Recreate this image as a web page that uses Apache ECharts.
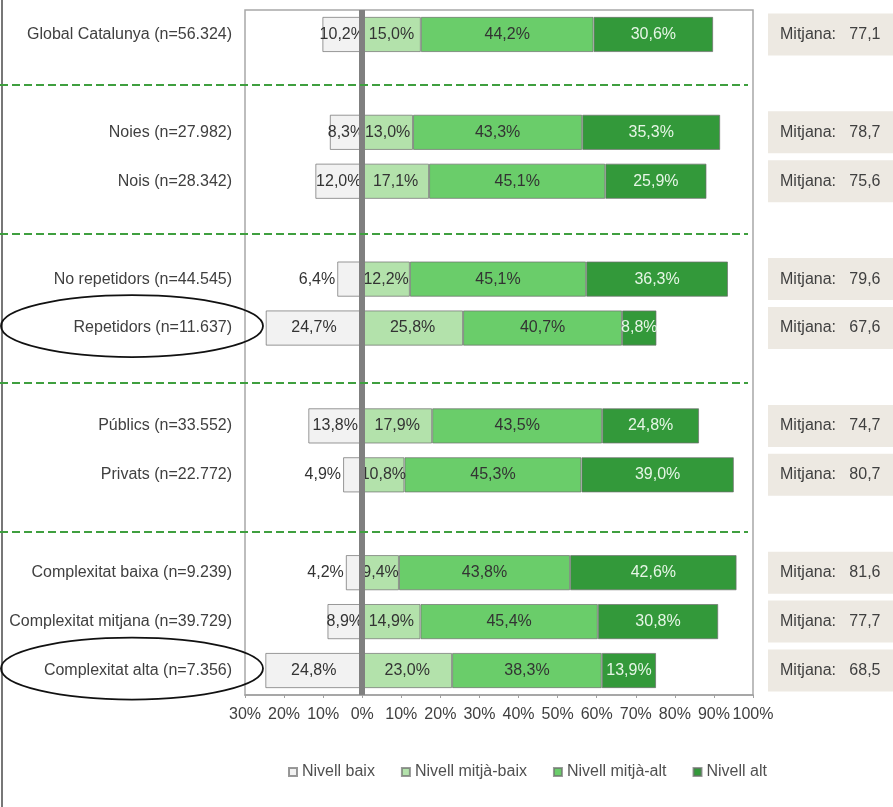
<!DOCTYPE html>
<html><head><meta charset="utf-8">
<script src="https://cdn.jsdelivr.net/npm/echarts@6/dist/echarts.min.js"></script>
<style>html,body{margin:0;padding:0;background:#fff}#c{width:893px;height:807px}</style>
</head><body><div id="c"></div>
<script>
const categories = ['Global Catalunya (n=56.324)', 'sep1', 'Noies (n=27.982)', 'Nois (n=28.342)', 'sep2', 'No repetidors (n=44.545)', 'Repetidors (n=11.637)', 'sep3', 'Públics (n=33.552)', 'Privats (n=22.772)', 'sep4', 'Complexitat baixa (n=9.239)', 'Complexitat mitjana (n=39.729)', 'Complexitat alta (n=7.356)'];
const separators = ['sep1', 'sep2', 'sep3', 'sep4'];
const highlighted = ['Repetidors (n=11.637)', 'Complexitat alta (n=7.356)'];
const seriesNames = ['Nivell baix', 'Nivell mitjà-baix', 'Nivell mitjà-alt', 'Nivell alt'];
const nivellBaix = [10.2, null, 8.3, 12.0, null, 6.4, 24.7, null, 13.8, 4.9, null, 4.2, 8.9, 24.8];
const nivellMitjaBaix = [15.0, null, 13.0, 17.1, null, 12.2, 25.8, null, 17.9, 10.8, null, 9.4, 14.9, 23.0];
const nivellMitjaAlt = [44.2, null, 43.3, 45.1, null, 45.1, 40.7, null, 43.5, 45.3, null, 43.8, 45.4, 38.3];
const nivellAlt = [30.6, null, 35.3, 25.9, null, 36.3, 8.8, null, 24.8, 39.0, null, 42.6, 30.8, 13.9];
const mitjana = [77.1, null, 78.7, 75.6, null, 79.6, 67.6, null, 74.7, 80.7, null, 81.6, 77.7, 68.5];
const xMin = -30, xMax = 100, xInterval = 10;

const FONT = "'Liberation Sans', Arial, sans-serif";
const fmt = v => Math.abs(v).toFixed(1).replace('.', ',') + '%';
const colors = ['#f2f2f2', '#b3e2ab', '#6acd6a', '#33993a'];
const border = 'rgba(110,110,110,0.7)';

const chart = echarts.init(document.getElementById('c'), null, {renderer: 'canvas'});

function mkSeries(idx, values, sign) {
  return {
    name: seriesNames[idx],
    type: 'bar',
    stack: 'total',
    barWidth: '72%',
    itemStyle: {color: colors[idx], borderColor: border, borderWidth: 1},
    label: {
      show: true,
      position: 'inside',
      fontFamily: FONT,
      fontSize: 16,
      color: idx === 3 ? '#e6f6e6' : '#333',
      formatter: p => p.value == null || p.value === '-' ? '' : fmt(p.value)
    },
    data: values.map(v => {
      if (v == null) return '-';
      const item = {value: sign * v};
      if (idx === 0 && v < 7) item.label = {position: 'left', distance: 2};
      return item;
    })
  };
}

const series = [
  mkSeries(0, nivellBaix, -1),
  mkSeries(1, nivellMitjaBaix, 1),
  mkSeries(2, nivellMitjaAlt, 1),
  mkSeries(3, nivellAlt, 1)
];
series[3].markLine = {
  silent: true, symbol: 'none', animation: false,
  label: {show: false},
  lineStyle: {color: '#808080', width: 6, type: 'solid'},
  data: [{xAxis: 0}]
};

const option = {
  animation: false,
  backgroundColor: '#fff',
  textStyle: {fontFamily: FONT},
  grid: {left: 245, right: 140, top: 10, bottom: 112, show: true, borderColor: '#a8a8a8', borderWidth: 1.5,
    containLabel: false, outerBoundsMode: 'none'},
  xAxis: {
    type: 'value', min: xMin, max: xMax, interval: xInterval,
    axisLine: {show: true, lineStyle: {color: '#a0a0a0', width: 1.5}},
    axisTick: {show: true, length: 3, lineStyle: {color: '#a0a0a0'}},
    splitLine: {show: false},
    axisLabel: {fontFamily: FONT, fontSize: 16, color: '#404040', margin: 12, formatter: v => Math.abs(v) + '%'}
  },
  yAxis: [{
    type: 'category', data: categories, inverse: true,
    axisLine: {show: false}, axisTick: {show: false},
    axisLabel: {fontFamily: FONT, fontSize: 16, color: '#404040', margin: 13,
      formatter: v => separators.includes(v) ? '' : v}
  }, {
    type: 'category', data: categories, inverse: true, position: 'right',
    axisLine: {show: false}, axisTick: {show: false},
    axisLabel: {
      margin: 15, align: 'left',
      formatter: (v, i) => mitjana[i] == null ? '' : '{b|Mitjana:   ' + mitjana[i].toFixed(1).replace('.', ',') + '}',
      rich: {b: {fontFamily: FONT, fontSize: 16, color: '#404040', backgroundColor: '#ede9e2',
        padding: [13, 20, 13, 12], width: 110, align: 'left'}}
    }
  }],
  legend: {
    data: seriesNames, left: 283, top: 759, icon: 'rect', itemWidth: 8, itemHeight: 8, itemGap: 26,
    textStyle: {fontFamily: FONT, fontSize: 16, color: '#505050'}
  },
  series: series
};
chart.setOption(option);

const graphics = [];
graphics.push({type: 'line', shape: {x1: 2, y1: 0, x2: 2, y2: 807}, style: {stroke: '#777', lineWidth: 2}, silent: true});
const rightX = chart.convertToPixel({xAxisIndex: 0}, xMax);
const band = chart.convertToPixel({yAxisIndex: 0}, categories[1]) - chart.convertToPixel({yAxisIndex: 0}, categories[0]);
separators.forEach((s, k) => {
  const y = Math.round(chart.convertToPixel({yAxisIndex: 0}, s) + band * 0.04 * (k + 1));
  graphics.push({type: 'line', shape: {x1: 0, y1: y, x2: rightX - 5, y2: y},
    style: {stroke: '#3f9f3f', lineWidth: 2, lineDash: [8, 4]}, silent: true, z: 10});
});
highlighted.forEach(c => {
  const y = chart.convertToPixel({yAxisIndex: 0}, c);
  graphics.push({type: 'ellipse', shape: {cx: 132, cy: y - 2, rx: 131, ry: 31},
    style: {fill: 'none', stroke: '#111', lineWidth: 1.8}, silent: true, z: 10});
});
chart.setOption({graphic: graphics});
</script>
</body></html>
